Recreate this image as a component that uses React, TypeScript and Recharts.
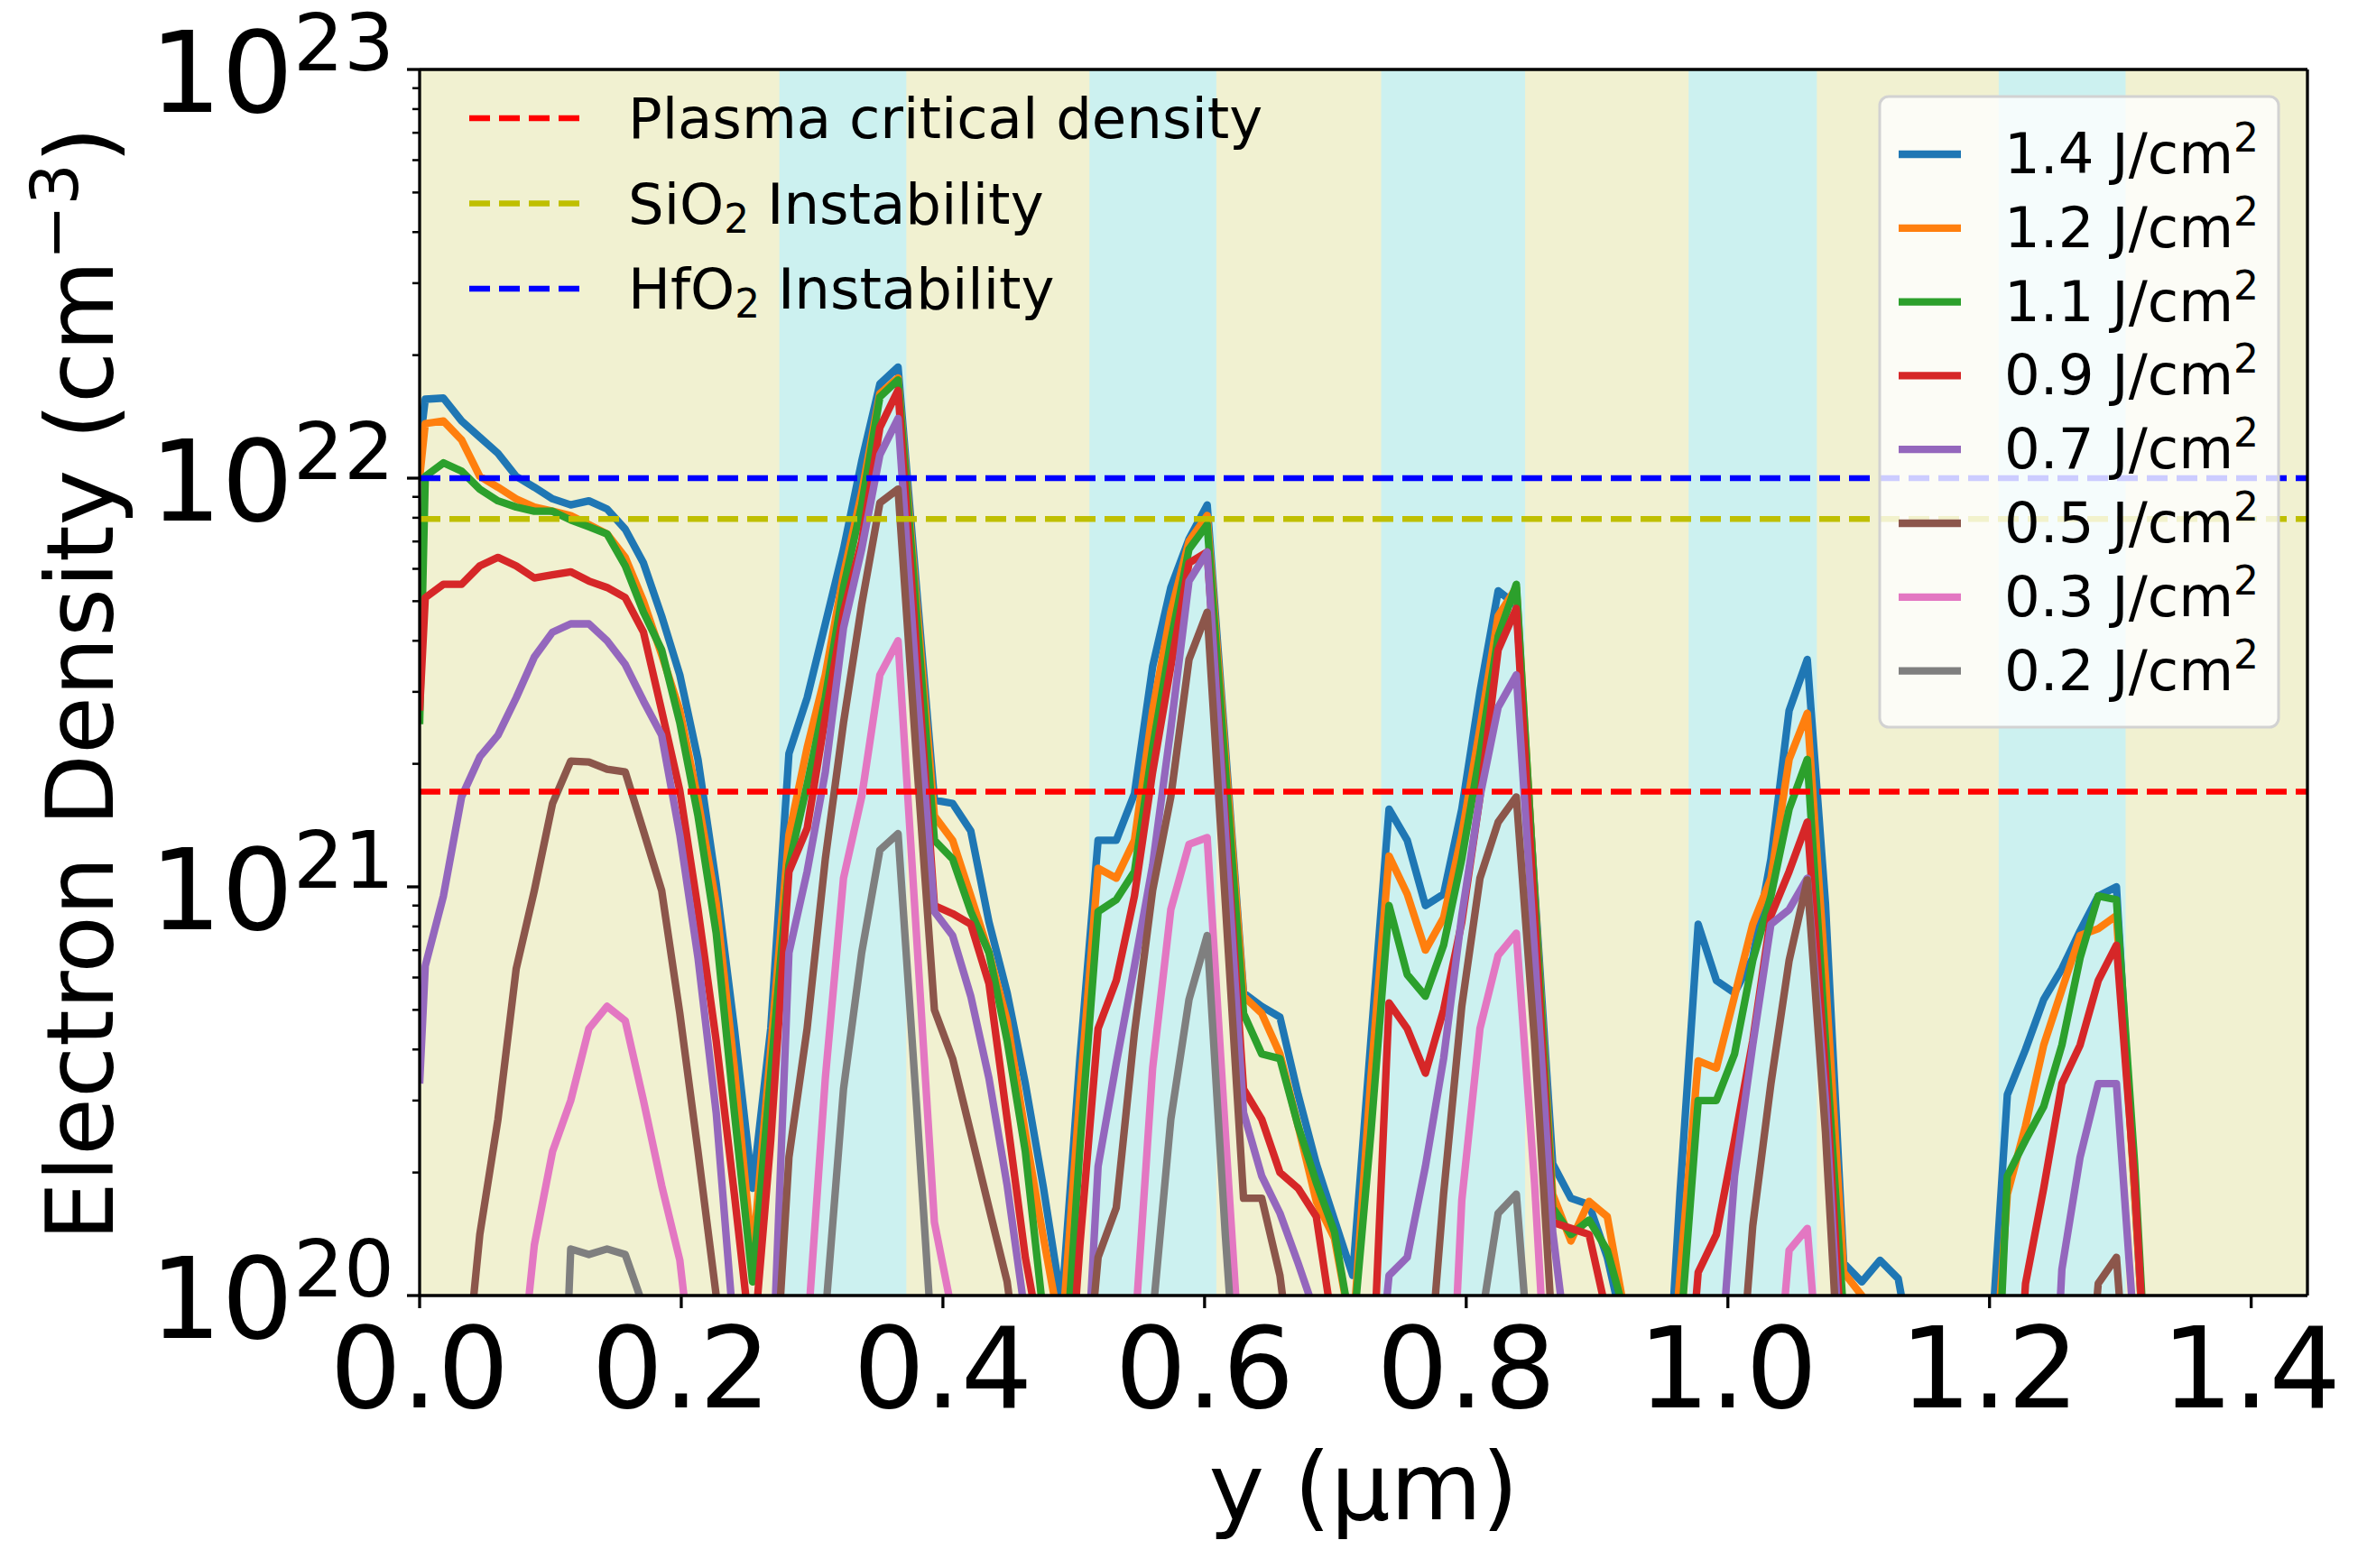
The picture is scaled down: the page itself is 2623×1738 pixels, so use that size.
import React from "react";
import { LineChart, Line, XAxis, YAxis, ReferenceArea, ReferenceLine } from "recharts";

const FONT = "DejaVu Sans, sans-serif";
const W = 2623;
const H = 1738;
const X_MAX = 1.443;

// sample positions along y (µm)
const positions = [
  0,
  0.0043, 0.0182, 0.0321, 0.046, 0.0599, 0.0738, 0.0877, 0.1016, 0.1155, 0.1294,
  0.1433, 0.1572, 0.1711, 0.185, 0.1989, 0.2128, 0.2267, 0.2406, 0.2545, 0.2684,
  0.2823, 0.2962, 0.3101, 0.324, 0.3379, 0.3518, 0.3657, 0.3796, 0.3935, 0.4074,
  0.4213, 0.4352, 0.4491, 0.463, 0.4769, 0.4908, 0.5047, 0.5186, 0.5325, 0.5464,
  0.5603, 0.5742, 0.5881, 0.602, 0.6159, 0.6298, 0.6437, 0.6576, 0.6715, 0.6854,
  0.6993, 0.7132, 0.7271, 0.741, 0.7549, 0.7688, 0.7827, 0.7966, 0.8105, 0.8244,
  0.8383, 0.8522, 0.8661, 0.88, 0.8939, 0.9078, 0.9217, 0.9356, 0.9495, 0.9634,
  0.9773, 0.9912, 1.0051, 1.019, 1.0329, 1.0468, 1.0607, 1.0746, 1.0885, 1.1024,
  1.1163, 1.1302, 1.1441, 1.158, 1.1719, 1.1858, 1.1997, 1.2136, 1.2275, 1.2414,
  1.2553, 1.2692, 1.2831, 1.297, 1.3109, 1.3248, 1.3387, 1.3526, 1.3665, 1.3804,
  1.3943, 1.4082, 1.4221, 1.436,
];

// electron density (cm^-3) per fluence
const fluence14 = [
  1.2e22,
  1.56e22, 1.57e22, 1.38e22, 1.26e22, 1.15e22, 1.01e22, 9.5e21, 8.9e21, 8.6e21, 8.8e21,
  8.4e21, 7.5e21, 6.2e21, 4.6e21, 3.3e21, 2.05e21, 1.02e21, 4.5e20, 1.83e20, 4.5e20,
  2.12e21, 2.9e21, 4.4e21, 6.7e21, 1.1e22, 1.7e22, 1.87e22, 5.5e21, 1.63e21, 1.6e21,
  1.37e21, 8.2e20, 5.5e20, 3.3e20, 1.83e20, 9.5e19, 3.8e20, 1.3e21, 1.3e21, 1.69e21,
  3.46e21, 5.4e21, 7.1e21, 8.6e21, 2.2e21, 5.5e20, 5.1e20, 4.8e20, 3.1e20, 2.1e20,
  1.53e20, 1.12e20, 4.2e20, 1.55e21, 1.3e21, 9.0e20, 9.6e20, 1.55e21, 3.0e21, 5.3e21,
  4.9e21, 1.0e21, 2.1e20, 1.73e20, 1.67e20, 1.24e20, 7.9e19, 3.2e19, 3.2e19, 1.78e20,
  8.1e20, 5.9e20, 5.5e20, 6.7e20, 1.17e21, 2.7e21, 3.6e21, 9.1e20, 1.2e20, 1.08e20,
  1.22e20, 1.1e20, 6.3e19, 3.2e19, 3.2e19, 3.2e19, 6.3e19, 3.1e20, 4.0e20, 5.3e20,
  6.3e20, 7.8e20, 9.5e20, 1.0e21, 1.78e20, 3.2e19, 3.2e19, 3.2e19, 3.2e19, 3.2e19,
  3.2e19, 3.2e19, 3.2e19, 3.2e19,
];
const fluence12 = [
  1.0e22,
  1.36e22, 1.38e22, 1.24e22, 1.01e22, 9.5e21, 8.9e21, 8.5e21, 8.3e21, 8.1e21, 7.7e21,
  7.3e21, 6.4e21, 5.0e21, 3.7e21, 2.7e21, 1.63e21, 9.1e20, 3.6e20, 1.24e20, 4.0e20,
  1.34e21, 2.19e21, 3.3e21, 5.8e21, 9.2e21, 1.61e22, 1.76e22, 5.1e21, 1.49e21, 1.3e21,
  9.5e20, 6.9e20, 4.7e20, 2.5e20, 1.38e20, 7.9e19, 3.1e20, 1.11e21, 1.05e21, 1.3e21,
  2.7e21, 4.7e21, 7.0e21, 8.1e21, 2.1e21, 5.4e20, 4.9e20, 3.9e20, 2.6e20, 1.7e20,
  1.38e20, 7.9e19, 3.4e20, 1.19e21, 9.6e20, 7.0e20, 8.4e20, 1.34e21, 2.44e21, 4.6e21,
  5.4e21, 9.8e20, 1.77e20, 1.36e20, 1.7e20, 1.56e20, 8.9e19, 3.2e19, 3.2e19, 1.12e20,
  3.75e20, 3.6e20, 5.4e20, 8.1e20, 1.05e21, 2.05e21, 2.66e21, 6.0e20, 1.14e20, 1.0e20,
  6.3e19, 3.2e19, 3.2e19, 3.2e19, 3.2e19, 3.2e19, 4.0e19, 1.77e20, 2.6e20, 4.1e20,
  5.6e20, 7.6e20, 7.9e20, 8.5e20, 1.8e20, 3.2e19, 3.2e19, 3.2e19, 3.2e19, 3.2e19,
  3.2e19, 3.2e19, 3.2e19, 3.2e19,
];
const fluence11 = [
  2.5e21,
  1.01e22, 1.09e22, 1.04e22, 9.4e21, 8.8e21, 8.5e21, 8.3e21, 8.3e21, 7.9e21, 7.6e21,
  7.3e21, 6.1e21, 4.7e21, 3.8e21, 2.52e21, 1.49e21, 7.7e20, 2.8e20, 1.08e20, 3.5e20,
  1.13e21, 1.78e21, 2.9e21, 5.4e21, 8.6e21, 1.58e22, 1.74e22, 4.75e21, 1.3e21, 1.17e21,
  8.7e20, 6.9e20, 4.2e20, 2.25e20, 8.9e19, 5.0e19, 2.3e20, 8.7e20, 9.3e20, 1.09e21,
  2.19e21, 4.0e21, 6.7e21, 7.7e21, 1.94e21, 4.9e20, 3.9e20, 3.8e20, 2.6e20, 1.89e20,
  1.43e20, 7.9e19, 2.5e20, 9.0e20, 6.1e20, 5.4e20, 7.2e20, 1.17e21, 2.12e21, 4.1e21,
  5.5e21, 9.7e20, 1.64e20, 1.41e20, 1.53e20, 1.29e20, 8.9e19, 3.2e19, 3.2e19, 7.9e19,
  3.0e20, 3.0e20, 3.9e20, 6.6e20, 9.5e20, 1.55e21, 2.05e21, 4.2e20, 8.9e19, 3.2e19,
  3.2e19, 3.2e19, 3.2e19, 3.2e19, 3.2e19, 3.2e19, 2.0e19, 1.96e20, 2.4e20, 2.9e20,
  4.1e20, 6.7e20, 9.5e20, 9.3e20, 2.1e20, 3.2e19, 3.2e19, 3.2e19, 3.2e19, 3.2e19,
  3.2e19, 3.2e19, 3.2e19, 3.2e19,
];
const fluence09 = [
  2.7e21,
  5.1e21, 5.5e21, 5.5e21, 6.1e21, 6.4e21, 6.1e21, 5.7e21, 5.8e21, 5.9e21, 5.6e21,
  5.4e21, 5.1e21, 4.2e21, 2.7e21, 1.72e21, 8.8e20, 4.2e20, 1.77e20, 7.1e19, 2.4e20,
  1.09e21, 1.39e21, 2.6e21, 4.7e21, 7.0e21, 1.33e22, 1.64e22, 3.85e21, 9.0e20, 8.6e20,
  8.1e20, 5.8e20, 2.7e20, 1.24e20, 7.1e19, 3.2e19, 1.33e20, 4.5e20, 5.9e20, 9.5e20,
  1.91e21, 3.46e21, 6.2e21, 6.6e21, 1.46e21, 3.2e20, 2.7e20, 2.0e20, 1.83e20, 1.56e20,
  7.9e19, 3.2e19, 5.0e19, 5.2e20, 4.5e20, 3.5e20, 5.0e20, 8.2e20, 1.66e21, 3.8e21,
  4.8e21, 8.5e20, 1.51e20, 1.46e20, 1.41e20, 8.9e19, 3.2e19, 3.2e19, 3.2e19, 3.2e19,
  1.14e20, 1.41e20, 2.4e20, 4.2e20, 8.5e20, 1.09e21, 1.44e21, 3.5e20, 6.3e19, 3.2e19,
  3.2e19, 3.2e19, 3.2e19, 3.2e19, 3.2e19, 3.2e19, 3.2e19, 2.0e19, 1.07e20, 1.83e20,
  3.3e20, 4.1e20, 5.9e20, 7.2e20, 1.89e20, 3.2e19, 3.2e19, 3.2e19, 3.2e19, 3.2e19,
  3.2e19, 3.2e19, 3.2e19, 3.2e19,
];
const fluence07 = [
  3.3e20,
  6.4e20, 9.5e20, 1.66e21, 2.08e21, 2.35e21, 2.9e21, 3.65e21, 4.2e21, 4.4e21, 4.4e21,
  4.0e21, 3.5e21, 2.85e21, 2.35e21, 1.34e21, 6.7e20, 2.8e20, 7.9e19, 4.0e19, 5.0e19,
  6.9e20, 1.09e21, 1.91e21, 4.3e21, 6.7e21, 1.14e22, 1.4e22, 3.2e21, 8.7e20, 7.6e20,
  5.4e20, 3.4e20, 1.86e20, 8.9e19, 3.2e19, 3.2e19, 3.2e19, 2.07e20, 3.7e20, 6.4e20,
  1.13e21, 2.44e21, 5.6e21, 6.6e21, 1.36e21, 2.8e20, 1.96e20, 1.59e20, 1.2e20, 8.9e19,
  5.0e19, 3.2e19, 4.0e19, 1.12e20, 1.24e20, 2.07e20, 3.8e20, 8.5e20, 1.66e21, 2.75e21,
  3.3e21, 6.9e20, 1.43e20, 6.3e19, 3.2e19, 3.2e19, 3.2e19, 3.2e19, 3.2e19, 3.2e19,
  3.2e19, 5.0e19, 1.96e20, 4.1e20, 8.1e20, 8.8e20, 1.05e21, 3.0e20, 5.0e19, 3.2e19,
  3.2e19, 3.2e19, 3.2e19, 3.2e19, 3.2e19, 3.2e19, 3.2e19, 3.2e19, 3.2e19, 1.6e19,
  1.16e20, 2.18e20, 3.3e20, 3.3e20, 7.9e19, 3.2e19, 3.2e19, 3.2e19, 3.2e19, 3.2e19,
  3.2e19, 3.2e19, 3.2e19, 3.2e19,
];
const fluence05 = [
  3.2e19,
  3.2e19, 3.2e19, 5.0e19, 1.41e20, 2.7e20, 6.3e20, 9.8e20, 1.6e21, 2.03e21, 2.02e21,
  1.94e21, 1.91e21, 1.37e21, 9.8e20, 4.9e20, 2.25e20, 1.0e20, 5.0e19, 3.2e19, 4.0e19,
  2.18e20, 4.5e20, 1.17e21, 2.52e21, 4.9e21, 8.7e21, 9.4e21, 2.1e21, 5.0e20, 3.8e20,
  2.5e20, 1.64e20, 1.08e20, 5.0e19, 3.2e19, 3.2e19, 4.0e19, 1.24e20, 1.64e20, 4.4e20,
  9.8e20, 1.66e21, 3.6e21, 4.7e21, 9.1e20, 1.73e20, 1.73e20, 1.12e20, 5.0e19, 3.2e19,
  3.2e19, 3.2e19, 3.2e19, 3.2e19, 3.2e19, 5.0e19, 1.77e20, 5.1e20, 1.05e21, 1.44e21,
  1.66e21, 4.2e20, 7.9e19, 3.2e19, 3.2e19, 3.2e19, 3.2e19, 3.2e19, 3.2e19, 3.2e19,
  3.2e19, 3.2e19, 4.0e19, 1.48e20, 3.3e20, 6.6e20, 1.04e21, 2.5e20, 4.0e19, 3.2e19,
  3.2e19, 3.2e19, 3.2e19, 3.2e19, 3.2e19, 3.2e19, 3.2e19, 3.2e19, 3.2e19, 3.2e19,
  3.2e19, 3.2e19, 1.07e20, 1.24e20, 3.2e19, 3.2e19, 3.2e19, 3.2e19, 3.2e19, 3.2e19,
  3.2e19, 3.2e19, 3.2e19, 3.2e19,
];
const fluence03 = [
  2.0e19,
  2.0e19, 2.0e19, 2.0e19, 2.0e19, 2.0e19, 5.0e19, 1.33e20, 2.25e20, 3.0e20, 4.5e20,
  5.1e20, 4.7e20, 3.0e20, 1.86e20, 1.22e20, 5.0e19, 2.0e19, 2.0e19, 2.0e19, 2.0e19,
  2.0e19, 7.9e19, 3.4e20, 1.05e21, 1.66e21, 3.3e21, 4.0e21, 7.8e20, 1.51e20, 9.0e19,
  2.0e19, 2.0e19, 2.0e19, 2.0e19, 2.0e19, 2.0e19, 2.0e19, 2.0e19, 2.0e19, 7.9e19,
  3.6e20, 8.8e20, 1.27e21, 1.32e21, 2.5e20, 5.0e19, 2.0e19, 2.0e19, 2.0e19, 2.0e19,
  2.0e19, 2.0e19, 2.0e19, 2.0e19, 2.0e19, 2.0e19, 2.0e19, 1.71e20, 4.5e20, 6.8e20,
  7.7e20, 1.89e20, 3.2e19, 2.0e19, 2.0e19, 2.0e19, 2.0e19, 2.0e19, 2.0e19, 2.0e19,
  2.0e19, 2.0e19, 2.0e19, 2.0e19, 4.0e19, 1.29e20, 1.46e20, 4.0e19, 2.0e19, 2.0e19,
  2.0e19, 2.0e19, 2.0e19, 2.0e19, 2.0e19, 2.0e19, 2.0e19, 2.0e19, 2.0e19, 2.0e19,
  2.0e19, 2.0e19, 2.0e19, 2.0e19, 2.0e19, 2.0e19, 2.0e19, 2.0e19, 2.0e19, 2.0e19,
  2.0e19, 2.0e19, 2.0e19, 2.0e19,
];
const fluence02 = [
  1.0e19,
  1.0e19, 1.0e19, 1.0e19, 1.0e19, 1.0e19, 1.0e19, 1.0e19, 1.0e19, 1.3e20, 1.26e20,
  1.3e20, 1.26e20, 9.4e19, 1.0e19, 1.0e19, 1.0e19, 1.0e19, 1.0e19, 1.0e19, 1.0e19,
  1.0e19, 1.0e19, 8.9e19, 3.2e20, 6.9e20, 1.23e21, 1.35e21, 3.0e20, 6.3e19, 1.0e19,
  1.0e19, 1.0e19, 1.0e19, 1.0e19, 1.0e19, 1.0e19, 1.0e19, 1.0e19, 1.0e19, 1.0e19,
  8.9e19, 2.7e20, 5.3e20, 7.6e20, 1.4e20, 3.2e19, 1.0e19, 1.0e19, 1.0e19, 1.0e19,
  1.0e19, 1.0e19, 1.0e19, 1.0e19, 1.0e19, 1.0e19, 1.0e19, 1.0e19, 8.3e19, 1.59e20,
  1.77e20, 4.8e19, 1.0e19, 1.0e19, 1.0e19, 1.0e19, 1.0e19, 1.0e19, 1.0e19, 1.0e19,
  1.0e19, 1.0e19, 1.0e19, 1.0e19, 1.0e19, 1.0e19, 1.0e19, 1.0e19, 1.0e19, 1.0e19,
  1.0e19, 1.0e19, 1.0e19, 1.0e19, 1.0e19, 1.0e19, 1.0e19, 1.0e19, 1.0e19, 1.0e19,
  1.0e19, 1.0e19, 1.0e19, 1.0e19, 1.0e19, 1.0e19, 1.0e19, 1.0e19, 1.0e19, 1.0e19,
  1.0e19, 1.0e19, 1.0e19, 1.0e19,
];

const fluenceLabels = ["1.4", "1.2", "1.1", "0.9", "0.7", "0.5", "0.3", "0.2"];
const fluenceColors = ["#1f77b4", "#ff7f0e", "#2ca02c", "#d62728", "#9467bd", "#8c564b", "#e377c2", "#7f7f7f"];
const fluenceValues = [fluence14, fluence12, fluence11, fluence09, fluence07, fluence05, fluence03, fluence02];

// threshold densities
const thresholdLabels = ["Plasma critical density", "SiO₂ Instability", "HfO₂ Instability"];
const thresholdValues = [1.71e21, 7.95e21, 1.0e22];
const thresholdColors = ["#ff0000", "#bfbf00", "#0000ff"];

// HfO2 layers (cyan bands), µm
const bandStarts = [0.275, 0.512, 0.735, 0.97, 1.207];
const bandEnds = [0.372, 0.609, 0.845, 1.068, 1.304];

const xTicks = [0, 0.2, 0.4, 0.6, 0.8, 1.0, 1.2, 1.4];
const yTicks = [
  1e20, 2e20, 3e20, 4e20, 5e20, 6e20, 7e20, 8e20, 9e20,
  1e21, 2e21, 3e21, 4e21, 5e21, 6e21, 7e21, 8e21, 9e21,
  1e22, 2e22, 3e22, 4e22, 5e22, 6e22, 7e22, 8e22, 9e22,
  1e23,
];

const chartData = positions.map((pos, i) => {
  const row: Record<string, number> = { pos };
  fluenceValues.forEach((vals, j) => {
    row["f" + j] = vals[i];
  });
  return row;
});

const LINE_W = 8.3;
const LEG_FONT = 62.5;

function renderYTick(props: any) {
  const { x, y, payload } = props;
  const v = payload.value;
  const exp = Math.round(Math.log10(v));
  const major = Math.abs(v / Math.pow(10, exp) - 1) < 1e-6;
  return (
    <g>
      <line x1={x} x2={x - (major ? 14 : 8)} y1={y} y2={y} stroke="#000" strokeWidth={major ? 3.3 : 2.5} />
      {major && (
        <text x={x - 299} y={y + 47} fontSize={125} fontFamily={FONT} fill="#000">
          10
          <tspan dy={-46} fontSize={88}>
            {exp}
          </tspan>
        </text>
      )}
    </g>
  );
}

function renderXTick(props: any) {
  const { x, y, payload } = props;
  return (
    <g>
      <line x1={x} x2={x} y1={y} y2={y + 14} stroke="#000" strokeWidth={3.3} />
      <text x={x} y={y + 124} textAnchor="middle" fontSize={125} fontFamily={FONT} fill="#000">
        {Number(payload.value).toFixed(1)}
      </text>
    </g>
  );
}

function withSubscript(label: string, size: number) {
  const idx = label.indexOf("₂");
  if (idx < 0) return label;
  return (
    <>
      {label.slice(0, idx)}
      <tspan dy={10} fontSize={size * 0.7}>
        2
      </tspan>
      <tspan dy={-10} fontSize={size}>
        {label.slice(idx + 1)}
      </tspan>
    </>
  );
}

export default function App() {
  const spine = { stroke: "#000", strokeWidth: 3.3 };
  return (
    <div style={{ position: "absolute", left: 0, top: 0, width: W, height: H, background: "#fff" }}>
      <LineChart width={W} height={H} data={chartData} margin={{ top: 76, right: 65, bottom: 0, left: 0 }}>
        <ReferenceArea x1={0} x2={X_MAX} fill="#f1f1d1" fillOpacity={1} stroke="none" />
        {bandStarts.map((s, i) => (
          <ReferenceArea key={"band" + i} x1={s} x2={bandEnds[i]} fill="#ccf1f0" fillOpacity={1} stroke="none" />
        ))}
        {fluenceLabels.map((lab, j) => (
          <Line
            key={lab}
            dataKey={"f" + j}
            name={lab}
            stroke={fluenceColors[j]}
            strokeWidth={LINE_W}
            strokeLinejoin="round"
            dot={false}
            activeDot={false}
            isAnimationActive={false}
          />
        ))}
        {thresholdValues.map((v, i) => (
          <ReferenceLine
            key={"thr" + i}
            y={v}
            stroke={thresholdColors[i]}
            strokeWidth={6.5}
            strokeDasharray="23 10"
          />
        ))}
        <XAxis
          dataKey="pos"
          type="number"
          domain={[0, X_MAX]}
          allowDataOverflow
          ticks={xTicks}
          interval={0}
          tick={renderXTick}
          tickLine={false}
          tickSize={0}
          tickMargin={0}
          height={302}
          axisLine={spine}
        />
        <YAxis
          scale="log"
          type="number"
          domain={[1e20, 1e23]}
          allowDataOverflow
          ticks={yTicks}
          interval={0}
          tick={renderYTick}
          tickLine={false}
          tickSize={0}
          tickMargin={0}
          width={465}
          axisLine={spine}
        />
        <XAxis xAxisId="top" orientation="top" type="number" domain={[0, X_MAX]} height={1} tick={false} tickLine={false} axisLine={spine} />
        <YAxis yAxisId="right" orientation="right" type="number" domain={[0, 1]} width={1} tick={false} tickLine={false} axisLine={spine} />
      </LineChart>

      <svg
        width={W}
        height={H}
        style={{ position: "absolute", left: 0, top: 0, pointerEvents: "none" }}
        fontFamily={FONT}
      >
        <text transform="translate(125, 758) rotate(-90)" textAnchor="middle" fontSize={104} fill="#000">
          Electron Density (cm
          <tspan dy={-39} fontSize={73}>
            −3
          </tspan>
          <tspan dy={39} fontSize={104}>
            )
          </tspan>
        </text>
        <text x={1511} y={1684} textAnchor="middle" fontSize={104} fill="#000">
          y (µm)
        </text>

        {thresholdLabels.map((lab, i) => {
          const cy = 131 + 94.5 * i;
          return (
            <g key={"tl" + i}>
              <line x1={520} x2={643} y1={cy} y2={cy} stroke={thresholdColors[i]} strokeWidth={6.5} strokeDasharray="23 10" />
              <text x={696} y={cy + 22} fontSize={LEG_FONT} fill="#000">
                {withSubscript(lab, LEG_FONT)}
              </text>
            </g>
          );
        })}

        <rect x={2083} y={107} width={442} height={699} rx={10} ry={10} fill="rgba(255,255,255,0.8)" stroke="#d2d2d2" strokeWidth={3} />
        {fluenceLabels.map((lab, j) => {
          const cy = 171 + 81.8 * j;
          return (
            <g key={"fl" + j}>
              <line x1={2104} x2={2173} y1={cy} y2={cy} stroke={fluenceColors[j]} strokeWidth={LINE_W} />
              <text x={2221} y={cy + 21} fontSize={LEG_FONT} fill="#000">
                {lab} J/cm
                <tspan dy={-24} fontSize={44}>
                  2
                </tspan>
              </text>
            </g>
          );
        })}
      </svg>
    </div>
  );
}
